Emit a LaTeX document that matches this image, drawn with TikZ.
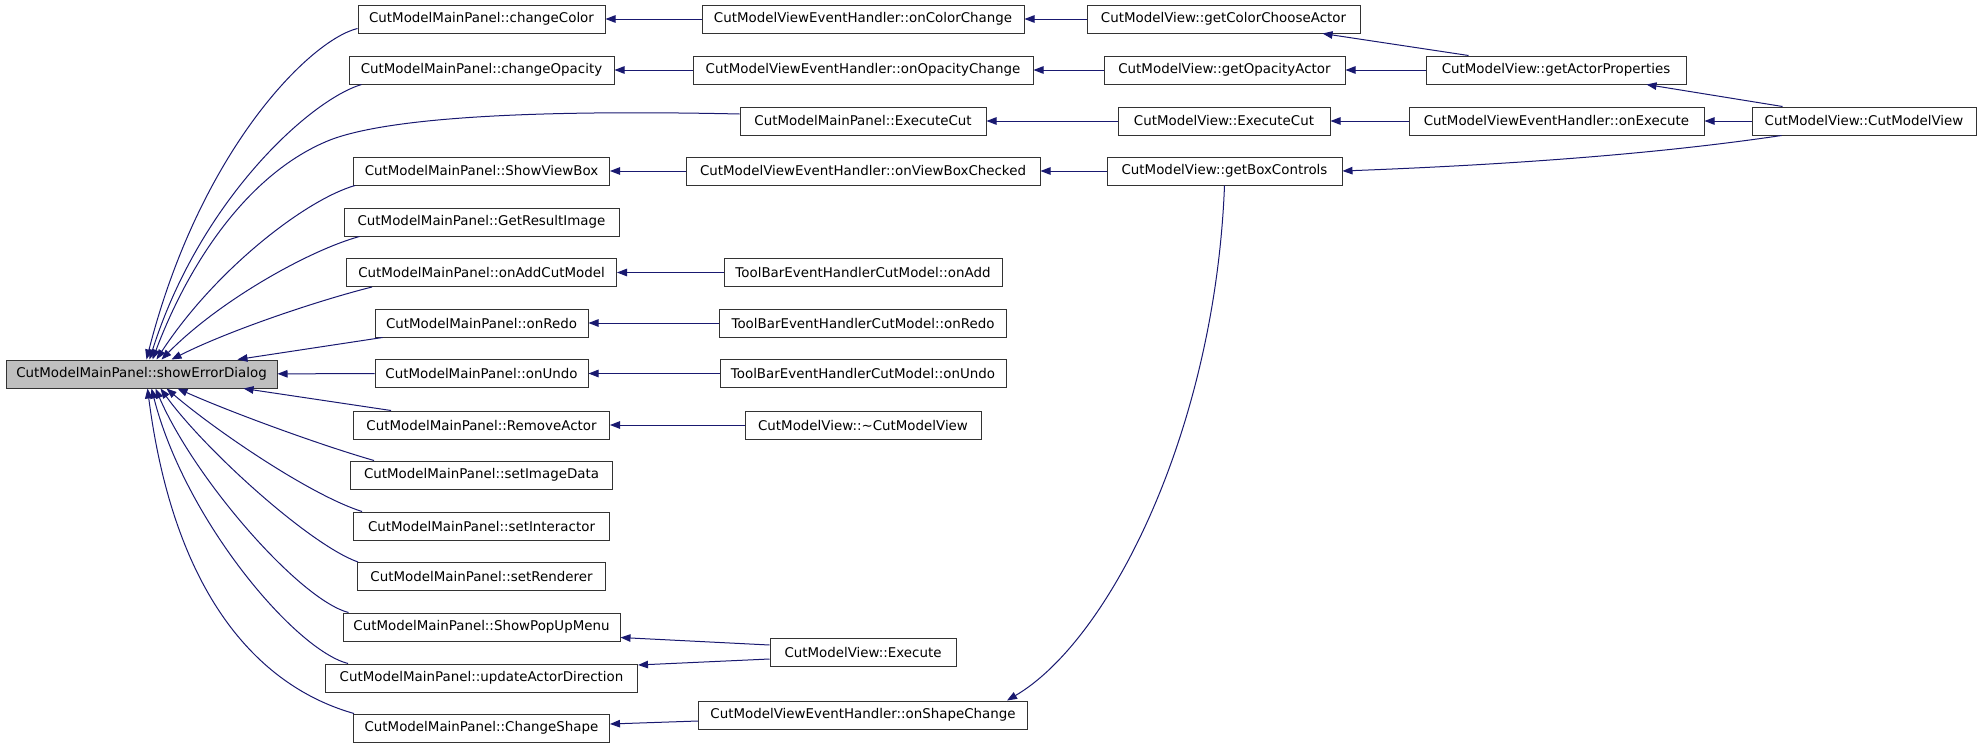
\documentclass[tikz,border=0pt]{standalone}
\usepackage{fontspec}
\setmainfont{DejaVu Sans}
\usetikzlibrary{arrows.meta}
\definecolor{edgeblue}{HTML}{191970}
\definecolor{nodegray}{HTML}{BFBFBF}
\begin{document}
\begin{tikzpicture}[x=1pt,y=-1pt,
  fn/.style={draw=black!80, line width=1pt, fill=white, inner sep=0pt, minimum height=28pt,
    font=\fontsize{13.4}{15}\selectfont, anchor=center},
  edge/.style={draw=edgeblue, line width=1pt, -{Triangle[length=10pt,width=7.5pt]}},
]
\useasboundingbox (0,0) rectangle (1981,747);
% column 1
\node[fn, fill=nodegray, minimum width=271pt] (sed) at (141.5,374) {CutModelMainPanel::showErrorDialog};
% column 2
\node[fn, minimum width=247pt] (mpChangeColor) at (481.5,19) {CutModelMainPanel::changeColor};
\node[fn, minimum width=265pt] (mpChangeOpacity) at (481.5,70) {CutModelMainPanel::changeOpacity};
\node[fn, minimum width=256pt] (mpShowViewBox) at (481.5,171) {CutModelMainPanel::ShowViewBox};
\node[fn, minimum width=275pt] (mpGetResultImage) at (481.5,222) {CutModelMainPanel::GetResultImage};
\node[fn, minimum width=270pt] (mpOnAddCutModel) at (481.5,272.5) {CutModelMainPanel::onAddCutModel};
\node[fn, minimum width=213pt] (mpOnRedo) at (481.5,323) {CutModelMainPanel::onRedo};
\node[fn, minimum width=213pt] (mpOnUndo) at (481.5,373.5) {CutModelMainPanel::onUndo};
\node[fn, minimum width=256pt] (mpRemoveActor) at (481.5,425) {CutModelMainPanel::RemoveActor};
\node[fn, minimum width=262pt] (mpSetImageData) at (481.5,475) {CutModelMainPanel::setImageData};
\node[fn, minimum width=256pt] (mpSetInteractor) at (481.5,526) {CutModelMainPanel::setInteractor};
\node[fn, minimum width=248pt] (mpSetRenderer) at (481.5,576.5) {CutModelMainPanel::setRenderer};
\node[fn, minimum width=277pt] (mpShowPopUpMenu) at (481.5,627) {CutModelMainPanel::ShowPopUpMenu};
\node[fn, minimum width=312pt] (mpUpdateActorDirection) at (481.5,678) {CutModelMainPanel::updateActorDirection};
\node[fn, minimum width=256pt] (mpChangeShape) at (481.5,728) {CutModelMainPanel::ChangeShape};
% column 3
\node[fn, minimum width=322pt] (ehOnColorChange) at (863,19) {CutModelViewEventHandler::onColorChange};
\node[fn, minimum width=340pt] (ehOnOpacityChange) at (863,70) {CutModelViewEventHandler::onOpacityChange};
\node[fn, minimum width=246pt] (mpExecuteCut) at (863,121) {CutModelMainPanel::ExecuteCut};
\node[fn, minimum width=354pt] (ehOnViewBoxChecked) at (863,171) {CutModelViewEventHandler::onViewBoxChecked};
\node[fn, minimum width=278pt] (tbOnAdd) at (863,272.5) {ToolBarEventHandlerCutModel::onAdd};
\node[fn, minimum width=287pt] (tbOnRedo) at (863,323) {ToolBarEventHandlerCutModel::onRedo};
\node[fn, minimum width=286pt] (tbOnUndo) at (863,373.5) {ToolBarEventHandlerCutModel::onUndo};
\node[fn, minimum width=236pt] (cvDtor) at (863,425) {CutModelView::\textasciitilde CutModelView};
\node[fn, minimum width=186pt] (cvExecute) at (863,652) {CutModelView::Execute};
\node[fn, minimum width=329pt] (ehOnShapeChange) at (863,715) {CutModelViewEventHandler::onShapeChange};
% column 4
\node[fn, minimum width=273pt] (cvGetColorChooseActor) at (1223.5,19) {CutModelView::getColorChooseActor};
\node[fn, minimum width=241pt] (cvGetOpacityActor) at (1224.5,70) {CutModelView::getOpacityActor};
\node[fn, minimum width=212pt] (cvExecuteCut) at (1224,121) {CutModelView::ExecuteCut};
\node[fn, minimum width=235pt] (cvGetBoxControls) at (1224.5,171) {CutModelView::getBoxControls};
% column 5
\node[fn, minimum width=260pt] (cvGetActorProperties) at (1556,70) {CutModelView::getActorProperties};
\node[fn, minimum width=295pt] (ehOnExecute) at (1556.5,121) {CutModelViewEventHandler::onExecute};
% column 6
\node[fn, minimum width=224pt] (cvCtor) at (1864,121) {CutModelView::CutModelView};

% edges into showErrorDialog (upper)
\draw[edge] ([yshift=5pt]mpChangeColor.south west) .. controls (310,40) and (200,150) .. ([xshift=141pt]sed.north west);
\draw[edge] ([xshift=13pt]mpChangeOpacity.south west) .. controls (310,100) and (200,200) .. ([xshift=144pt]sed.north west);
\draw[edge] ([yshift=7pt]mpExecuteCut.west) .. controls (560,110) and (395,115) .. (330,140) .. controls (250,172) and (190,260) .. ([xshift=147pt]sed.north west);
\draw[edge] ([xshift=2pt]mpShowViewBox.south west) .. controls (305,200) and (215,270) .. ([xshift=151pt]sed.north west);
\draw[edge] ([xshift=16pt]mpGetResultImage.south west) .. controls (310,250) and (220,300) .. ([xshift=156pt]sed.north west);
\draw[edge] ([xshift=26pt]mpOnAddCutModel.south west) .. controls (320,300) and (230,330) .. ([xshift=166pt]sed.north west);
\draw[edge] ([xshift=8pt]mpOnRedo.south west) -- ([xshift=232pt]sed.north west);
\draw[edge] (mpOnUndo) -- (sed);
% edges into showErrorDialog (lower)
\draw[edge] ([xshift=38pt]mpRemoveActor.north west) -- ([xshift=238pt]sed.south west);
\draw[edge] ([xshift=24pt]mpSetImageData.north west) .. controls (320,445) and (230,412) .. ([xshift=172pt]sed.south west);
\draw[edge] ([xshift=9pt]mpSetInteractor.north west) .. controls (310,495) and (215,430) .. ([xshift=161pt]sed.south west);
\draw[edge] ([xshift=1pt]mpSetRenderer.north west) .. controls (310,545) and (205,450) .. ([xshift=155pt]sed.south west);
\draw[edge] ([xshift=6pt]mpShowPopUpMenu.north west) .. controls (300,600) and (195,480) .. ([xshift=150pt]sed.south west);
\draw[edge] ([xshift=23pt]mpUpdateActorDirection.north west) .. controls (295,650) and (185,520) .. ([xshift=146pt]sed.south west);
\draw[edge] ([xshift=1pt]mpChangeShape.north west) .. controls (296,697) and (180,640) .. ([xshift=142pt]sed.south west);

% column 3 -> column 2
\draw[edge] (ehOnColorChange) -- (mpChangeColor);
\draw[edge] (ehOnOpacityChange) -- (mpChangeOpacity);
\draw[edge] (ehOnViewBoxChecked) -- (mpShowViewBox);
\draw[edge] (tbOnAdd) -- (mpOnAddCutModel);
\draw[edge] (tbOnRedo) -- (mpOnRedo);
\draw[edge] (tbOnUndo) -- (mpOnUndo);
\draw[edge] (cvDtor) -- (mpRemoveActor);
\draw[edge] ([yshift=7pt]cvExecute.west) -- ([yshift=4pt]mpShowPopUpMenu.south east);
\draw[edge] ([yshift=-7pt]cvExecute.west) -- ([yshift=13pt]mpUpdateActorDirection.east);
\draw[edge] ([yshift=-6pt]ehOnShapeChange.west) -- ([yshift=4pt]mpChangeShape.east);

% column 4 -> column 3
\draw[edge] (cvGetColorChooseActor) -- (ehOnColorChange);
\draw[edge] (cvGetOpacityActor) -- (ehOnOpacityChange);
\draw[edge] (cvExecuteCut) -- (mpExecuteCut);
\draw[edge] (cvGetBoxControls) -- (ehOnViewBoxChecked);
\draw[edge] (cvGetBoxControls.south) .. controls (1215,430) and (1110,640) .. ([xshift=-21pt]ehOnShapeChange.north east);

% column 5 -> column 4
\draw[edge] ([xshift=43pt]cvGetActorProperties.north west) -- ([xshift=-38pt]cvGetColorChooseActor.south east);
\draw[edge] (cvGetActorProperties) -- (cvGetOpacityActor);
\draw[edge] (ehOnExecute) -- (cvExecuteCut);

% column 6 -> others
\draw[edge] ([xshift=31pt]cvCtor.north west) -- ([xshift=-40pt]cvGetActorProperties.south east);
\draw[edge] (cvCtor) -- (ehOnExecute);
\draw[edge] ([xshift=30pt]cvCtor.south west) .. controls (1650,155) and (1500,165) .. (cvGetBoxControls.east);
\end{tikzpicture}
\end{document}
